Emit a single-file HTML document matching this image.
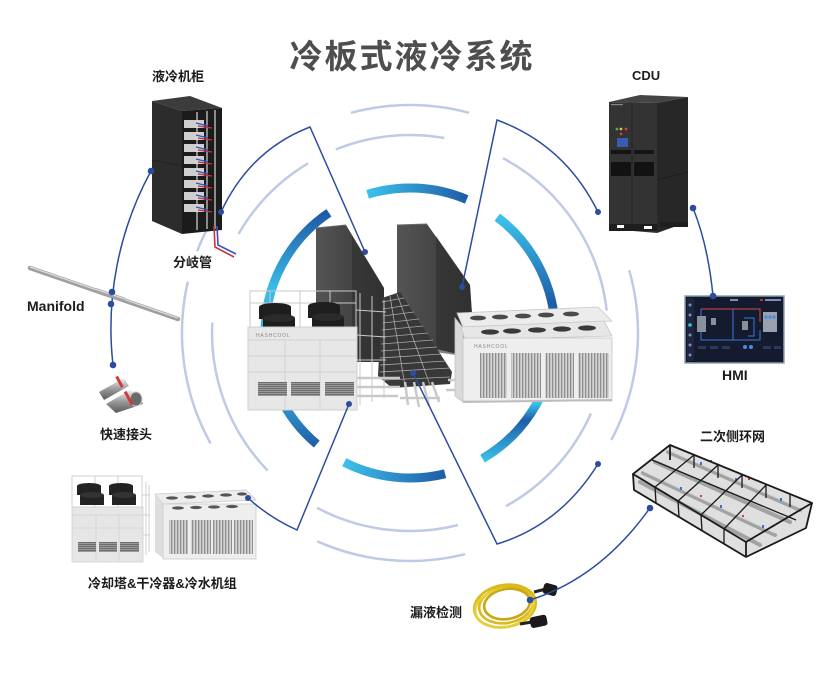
<!DOCTYPE html>
<html><head><meta charset="utf-8"><style>
html,body{margin:0;padding:0;background:#fff;}
svg{display:block}
.lb{font-family:"Liberation Sans","Noto Sans CJK SC",sans-serif;font-weight:bold;fill:#1c1c1c;}
</style></head><body>
<svg width="829" height="679" viewBox="0 0 829 679" xmlns="http://www.w3.org/2000/svg">
<defs>
<linearGradient id="gTop" gradientUnits="userSpaceOnUse" x1="367" y1="194" x2="467" y2="199"><stop offset="0" stop-color="#3cc2ea"/><stop offset="1" stop-color="#1e5ca8"/></linearGradient>
<linearGradient id="gLeft" gradientUnits="userSpaceOnUse" x1="0" y1="213" x2="0" y2="445"><stop offset="0" stop-color="#1e5aa6"/><stop offset="0.33" stop-color="#3bbde8"/><stop offset="0.85" stop-color="#2e8fca"/><stop offset="1" stop-color="#2160a8"/></linearGradient>
<linearGradient id="gRight" gradientUnits="userSpaceOnUse" x1="0" y1="217" x2="0" y2="459"><stop offset="0" stop-color="#3cc2ea"/><stop offset="0.36" stop-color="#1e5ca8"/><stop offset="0.77" stop-color="#3cc2ea"/><stop offset="0.84" stop-color="#1e5ca8"/><stop offset="1" stop-color="#39bde6"/></linearGradient>
<linearGradient id="gBot" gradientUnits="userSpaceOnUse" x1="344" y1="462" x2="445" y2="474"><stop offset="0" stop-color="#3cc2ea"/><stop offset="1" stop-color="#1e5ca8"/></linearGradient>
<linearGradient id="boxL" x1="0" y1="0" x2="1" y2="0"><stop offset="0" stop-color="#555"/><stop offset="1" stop-color="#333"/></linearGradient>
<linearGradient id="boxR" x1="0" y1="0" x2="1" y2="0"><stop offset="0" stop-color="#555"/><stop offset="1" stop-color="#333"/></linearGradient>
<pattern id="coil" width="3" height="10" patternUnits="userSpaceOnUse"><rect width="3" height="10" fill="#d4d4d4"/><rect width="1.3" height="10" fill="#8e8e8e"/></pattern>
<pattern id="louv" width="10" height="2" patternUnits="userSpaceOnUse"><rect width="10" height="2" fill="#9a9a9a"/><rect width="10" height="1" fill="#6e6e6e"/></pattern>
<linearGradient id="metal" x1="0" y1="0" x2="0" y2="1"><stop offset="0" stop-color="#f2f2f2"/><stop offset="0.5" stop-color="#9a9a9a"/><stop offset="1" stop-color="#5a5a5a"/></linearGradient>
</defs>
<rect width="829" height="679" fill="#fff"/>

<text x="412" y="68" text-anchor="middle" font-family="'Liberation Sans','Noto Sans CJK SC',sans-serif" font-weight="bold" font-size="33" letter-spacing="2" fill="#4e4e4e">冷板式液冷系统</text>

<g fill="none" stroke="#bfcae6" stroke-width="2.5">
<path d="M351,112.8 A228,228 0 0,1 469,112.8"/>
<path d="M208.7,226 A228,228 0 0,0 197.1,251.3"/>
<path d="M187.8,281.7 A228,228 0 0,0 210.6,443.5"/>
<path d="M317.3,541.3 A228,228 0 0,0 465.2,554.2"/>
<path d="M629.2,270.2 A228,228 0 0,1 611.3,440"/>
<path d="M335.8,149.4 A198,198 0 0,1 444.4,138"/>
<path d="M238.5,234 A198,198 0 0,1 308,163.3"/>
<path d="M503,158.2 A198,198 0 0,1 606.7,310.6"/>
<path d="M590.9,413.5 A198,198 0 0,1 506,506.2"/>
<path d="M317,507.8 A198,198 0 0,0 457.9,525.1"/>
<path d="M212.3,322.6 A198,198 0 0,0 267.6,470.5"/>
</g>

<g fill="none" stroke-width="9">
<path d="M367.6,194.3 A145,145 0 0,1 466.7,199.5" stroke="url(#gTop)"/>
<path d="M328.9,212.8 A145,145 0 0,0 316.8,444.1" stroke="url(#gLeft)"/>
<path d="M497.3,217.2 A145,145 0 0,1 482.5,458.6" stroke="url(#gRight)"/>
<path d="M344.2,462.2 A145,145 0 0,0 445.1,473.7" stroke="url(#gBot)"/>
</g>

<polygon points="316,228 346,225 384,288 384,362 316,362" fill="url(#boxL)"/>
<polygon points="352,236 384,288 384,362 352,362" fill="#303030" opacity="0.6"/>
<line x1="316" y1="228" x2="346" y2="225" stroke="#6a6a6a" stroke-width="1"/>
<polygon points="397,225 427,224 470,285 475,358 397,340" fill="url(#boxR)"/>
<polygon points="436,236 470,285 475,358 436,352" fill="#2e2e2e" opacity="0.6"/>
<line x1="397" y1="225" x2="427" y2="224" stroke="#6a6a6a" stroke-width="1"/>
<polygon points="382,298 400,292 452,372 450,384 392,388 378,376" fill="#383838"/>
<g stroke="#a8a8a8" stroke-width="0.8">
<line x1="382" y1="302" x2="404" y2="298"/><line x1="383" y1="309" x2="409" y2="305"/>
<line x1="383" y1="316" x2="414" y2="312"/><line x1="383" y1="323" x2="419" y2="319"/>
<line x1="382" y1="330" x2="423" y2="326"/><line x1="382" y1="337" x2="428" y2="333"/>
<line x1="381" y1="344" x2="433" y2="340"/><line x1="381" y1="351" x2="437" y2="347"/>
<line x1="380" y1="358" x2="442" y2="354"/><line x1="380" y1="365" x2="446" y2="361"/>
<line x1="380" y1="372" x2="450" y2="368"/><line x1="384" y1="380" x2="450" y2="377"/>
<line x1="390" y1="296" x2="405" y2="386"/><line x1="397" y1="294" x2="430" y2="385"/>
</g>
<g stroke="#c9c9c9" stroke-width="2.5" fill="none">
<line x1="356" y1="378" x2="400" y2="378"/><line x1="356" y1="387" x2="400" y2="387"/><line x1="356" y1="396" x2="398" y2="396"/>
<path d="M405,382 L408,405"/><path d="M414,382 L419,407"/><path d="M423,382 L429,406"/><path d="M432,382 L439,402"/>
<line x1="448" y1="380" x2="470" y2="380"/><line x1="446" y1="390" x2="470" y2="390"/>
<path d="M400,398 L440,398"/>
</g>

<g stroke="#c9c9c9" stroke-width="1" fill="none">
<rect x="250" y="291" width="106" height="36"/>
<line x1="270" y1="291" x2="270" y2="327"/><line x1="300" y1="291" x2="300" y2="327"/><line x1="330" y1="291" x2="330" y2="327"/>
<line x1="250" y1="303" x2="356" y2="303"/>
<line x1="360" y1="293" x2="360" y2="405"/><line x1="372" y1="296" x2="372" y2="402"/><line x1="384" y1="300" x2="384" y2="398"/>
<line x1="356" y1="310" x2="386" y2="312"/><line x1="356" y1="335" x2="386" y2="337"/><line x1="356" y1="360" x2="386" y2="360"/>
</g>
<g fill="#1e1e1e">
<rect x="259" y="307" width="32" height="12"/><ellipse cx="275" cy="307" rx="16" ry="4"/>
<rect x="263" y="318" width="32" height="10"/><ellipse cx="279" cy="318" rx="16" ry="4" fill="#2a2a2a"/>
<rect x="308" y="306" width="32" height="12"/><ellipse cx="324" cy="306" rx="16" ry="4"/>
<rect x="312" y="317" width="32" height="11"/><ellipse cx="328" cy="317" rx="16" ry="4" fill="#2a2a2a"/>
</g>
<rect x="248" y="327" width="109" height="83" fill="#e7e7e7" stroke="#cfcfcf"/>
<g stroke="#d2d2d2" stroke-width="1">
<line x1="285" y1="340" x2="285" y2="410"/><line x1="320" y1="340" x2="320" y2="410"/>
<line x1="248" y1="340" x2="357" y2="340"/><line x1="248" y1="356" x2="357" y2="356"/><line x1="248" y1="372" x2="357" y2="372"/>
</g>
<text x="256" y="337" font-family="'Liberation Sans',sans-serif" font-size="5" fill="#888" letter-spacing="0.8">HASHCOOL</text>
<rect x="258" y="382" width="29" height="14" fill="url(#louv)"/>
<rect x="291" y="382" width="29" height="14" fill="url(#louv)"/>
<rect x="325" y="382" width="29" height="14" fill="url(#louv)"/>

<polygon points="455,318 463,328 463,402 455,396" fill="#d9d9d9" stroke="#c4c4c4" stroke-width="0.8"/>
<polygon points="457,313 598,307 612,321 463,327" fill="#ececec" stroke="#c8c8c8" stroke-width="0.8"/>
<g fill="#4a4a4a"><ellipse cx="478" cy="318" rx="8" ry="2.4"/><ellipse cx="500" cy="317" rx="8" ry="2.4"/><ellipse cx="523" cy="316" rx="8" ry="2.4"/><ellipse cx="546" cy="315" rx="8" ry="2.4"/><ellipse cx="571" cy="314" rx="8" ry="2.4"/></g>
<polygon points="461,327 604,321 612,336 465,340" fill="#e6e6e6" stroke="#c8c8c8" stroke-width="0.8"/>
<g fill="#3a3a3a"><ellipse cx="490" cy="332" rx="9" ry="2.6"/><ellipse cx="512" cy="331" rx="9" ry="2.6"/><ellipse cx="537" cy="330" rx="9" ry="2.6"/><ellipse cx="562" cy="329" rx="9" ry="2.6"/><ellipse cx="587" cy="328" rx="9" ry="2.6"/></g>
<rect x="463" y="338" width="149" height="63" fill="#eeeeee" stroke="#c6c6c6" stroke-width="0.8"/>
<text x="474" y="348" font-family="'Liberation Sans',sans-serif" font-size="5" fill="#888" letter-spacing="0.8">HASHCOOL</text>
<rect x="480" y="353" width="27" height="45" fill="url(#coil)"/>
<rect x="511" y="353" width="30" height="45" fill="url(#coil)"/>
<rect x="545" y="353" width="29" height="45" fill="url(#coil)"/>
<rect x="578" y="353" width="31" height="45" fill="url(#coil)"/>
<line x1="463" y1="402" x2="612" y2="400" stroke="#bdbdbd" stroke-width="2"/>

<polygon points="152,101 190,96 222,108 182,111" fill="#3c3c3c"/>
<polygon points="152,101 182,111 182,234 152,221" fill="#2c2c2c"/>
<line x1="152" y1="160" x2="182" y2="166" stroke="#222" stroke-width="1"/>
<polygon points="182,111 222,108 222,230 182,234" fill="#1b1b1b"/>
<g fill="#cfcfcf">
<rect x="184" y="120" width="20" height="8"/><rect x="184" y="132" width="20" height="8"/><rect x="184" y="144" width="20" height="8"/><rect x="184" y="156" width="20" height="8"/>
<rect x="184" y="168" width="20" height="8"/><rect x="184" y="180" width="20" height="8"/><rect x="184" y="192" width="20" height="8"/><rect x="184" y="204" width="20" height="8"/>
</g>
<g stroke="#d8d8d8" stroke-width="1.2"><line x1="197" y1="112" x2="197" y2="230"/><line x1="207" y1="111" x2="207" y2="229"/><line x1="215" y1="110" x2="215" y2="229"/></g>
<g stroke-width="1.2" fill="none">
<g stroke="#3552c4"><path d="M196,123 L208,126"/><path d="M196,135 L208,138"/><path d="M196,147 L208,150"/><path d="M196,159 L208,162"/><path d="M196,171 L208,174"/><path d="M196,183 L208,186"/><path d="M196,195 L208,198"/><path d="M196,207 L208,210"/></g>
<g stroke="#c83434"><path d="M198,126 L212,128"/><path d="M198,138 L212,140"/><path d="M198,150 L212,152"/><path d="M198,162 L212,164"/><path d="M198,174 L212,176"/><path d="M198,186 L212,188"/><path d="M198,198 L212,200"/><path d="M198,210 L212,212"/></g>
</g>
<g stroke-width="1.6" fill="none">
<path d="M214,226 L215,247 L234,257" stroke="#c83434"/>
<path d="M217,226 L218,245 L236,254" stroke="#3552c4"/>
</g>

<line x1="30" y1="268" x2="178" y2="319" stroke="#9f9f9f" stroke-width="4.5" stroke-linecap="round"/>
<line x1="30" y1="267" x2="178" y2="318" stroke="#dcdcdc" stroke-width="1.2"/>

<g>
<polygon points="99,392 124,378 129,386 104,400" fill="url(#metal)"/>
<rect x="118" y="376" width="3" height="12" fill="#d23a3a" transform="rotate(-28 119 382)"/>
<polygon points="106,404 130,390 140,396 143,404 116,413" fill="url(#metal)"/>
<ellipse cx="136" cy="399" rx="6" ry="7" fill="#6a6a6a" stroke="#ccc"/>
<rect x="127" y="391" width="3" height="15" fill="#d23a3a" transform="rotate(-28 128 398)"/>
</g>

<g stroke="#cfcfcf" stroke-width="1" fill="none">
<rect x="72" y="476" width="70" height="31"/>
<line x1="95" y1="476" x2="95" y2="507"/><line x1="118" y1="476" x2="118" y2="507"/>
<line x1="146" y1="482" x2="146" y2="555"/><line x1="149" y1="485" x2="149" y2="552"/>
<line x1="142" y1="495" x2="150" y2="495"/><line x1="142" y1="515" x2="150" y2="515"/><line x1="142" y1="535" x2="150" y2="535"/>
</g>
<g fill="#222">
<rect x="77" y="486" width="24" height="9"/><ellipse cx="89" cy="486" rx="12" ry="3"/>
<rect x="80" y="495" width="24" height="10"/><ellipse cx="92" cy="495" rx="12" ry="3" fill="#333"/>
<rect x="109" y="486" width="24" height="9"/><ellipse cx="121" cy="486" rx="12" ry="3"/>
<rect x="112" y="495" width="24" height="10"/><ellipse cx="124" cy="495" rx="12" ry="3" fill="#333"/>
</g>
<rect x="72" y="507" width="71" height="55" fill="#e6e6e6" stroke="#d0d0d0" stroke-width="0.8"/>
<g stroke="#d6d6d6"><line x1="96" y1="515" x2="96" y2="562"/><line x1="119" y1="515" x2="119" y2="562"/><line x1="72" y1="515" x2="143" y2="515"/><line x1="72" y1="528" x2="143" y2="528"/></g>
<rect x="78" y="542" width="18" height="10" fill="url(#louv)"/>
<rect x="99" y="542" width="18" height="10" fill="url(#louv)"/>
<rect x="120" y="542" width="19" height="10" fill="url(#louv)"/>

<polygon points="155,494 246,490 256,500 163,504" fill="#ededed" stroke="#cccccc" stroke-width="0.8"/>
<g fill="#555"><ellipse cx="172" cy="498" rx="6" ry="1.6"/><ellipse cx="190" cy="497" rx="6" ry="1.6"/><ellipse cx="208" cy="496" rx="6" ry="1.6"/><ellipse cx="226" cy="495" rx="6" ry="1.6"/><ellipse cx="242" cy="494" rx="5" ry="1.6"/></g>
<polygon points="155,494 163,504 163,558 155,552" fill="#dedede"/>
<rect x="163" y="504" width="93" height="55" fill="#eeeeee" stroke="#cccccc" stroke-width="0.8"/>
<g fill="#555"><ellipse cx="178" cy="508" rx="6" ry="1.6"/><ellipse cx="196" cy="507.5" rx="6" ry="1.6"/><ellipse cx="214" cy="507" rx="6" ry="1.6"/><ellipse cx="232" cy="506.5" rx="6" ry="1.6"/></g>
<rect x="169" y="520" width="19" height="34" fill="url(#coil)"/>
<rect x="191" y="520" width="20" height="34" fill="url(#coil)"/>
<rect x="213" y="520" width="19" height="34" fill="url(#coil)"/>
<rect x="234" y="520" width="19" height="34" fill="url(#coil)"/>

<polygon points="609,102 640,95 688,97 657,103" fill="#454545"/>
<polygon points="609,102 657,103 657,233 609,229" fill="#333333"/>
<polygon points="657,103 688,97 688,222 657,233" fill="#272727"/>
<line x1="632" y1="104" x2="632" y2="228" stroke="#262626" stroke-width="1"/>
<line x1="657" y1="180" x2="688" y2="172" stroke="#1e1e1e" stroke-width="1"/>
<circle cx="617" cy="129" r="1.4" fill="#4caf50"/><circle cx="621" cy="129" r="1.4" fill="#e8c030"/><circle cx="626" cy="129" r="1.4" fill="#d84040"/>
<circle cx="621" cy="134" r="1.3" fill="#d84040"/>
<rect x="617" y="138" width="11" height="9" fill="#3a5cb0"/>
<rect x="611" y="150" width="20" height="4" fill="#151515"/><rect x="634" y="150" width="20" height="4" fill="#151515"/>
<rect x="611" y="162" width="20" height="14" rx="1.5" fill="#121212"/><rect x="634" y="162" width="20" height="14" rx="1.5" fill="#121212"/>
<rect x="609" y="224" width="48" height="7" fill="#1e1e1e"/>
<rect x="617" y="225" width="7" height="3" fill="#fff"/><rect x="644" y="226" width="8" height="3" fill="#fff"/>
<rect x="660" y="222" width="28" height="5" fill="#1e1e1e"/>
<rect x="611" y="104" width="12" height="1.2" fill="#888"/>

<rect x="685" y="296" width="99" height="67" fill="#151b2f" stroke="#8fa0b2" stroke-width="1.5"/>
<rect x="687" y="298" width="7" height="63" fill="#1d2540"/>
<g fill="#7f8fb0"><circle cx="690" cy="305" r="1.5"/><circle cx="690" cy="315" r="1.5"/><circle cx="690" cy="325" r="1.8" fill="#3ec0d8"/><circle cx="690" cy="335" r="1.5"/><circle cx="690" cy="345" r="1.5"/><circle cx="690" cy="355" r="1.5"/></g>
<g fill="none" stroke-width="1">
<path d="M701,309 L760,309 L760,322" stroke="#d94a4a"/>
<path d="M701,309 L701,340 L760,340 L760,330" stroke="#3a7ad8"/>
<path d="M733,309 L733,340" stroke="#3a7ad8"/>
<path d="M744,318 L754,318 L754,336 L748,336" stroke="#3a7ad8"/>
</g>
<rect x="697" y="316" width="9" height="16" fill="#8a8f9c"/>
<rect x="711" y="318" width="5" height="7" fill="#8a8f9c"/>
<rect x="742" y="321" width="6" height="9" fill="#8a8f9c"/>
<rect x="763" y="312" width="14" height="20" fill="#9aa0ac"/>
<g fill="#4b8de0"><circle cx="766" cy="317" r="1.8"/><circle cx="770" cy="317" r="1.8"/><circle cx="774" cy="317" r="1.8"/></g>
<g fill="#2c3a5a"><rect x="698" y="346" width="8" height="3"/><rect x="710" y="346" width="8" height="3"/><rect x="722" y="346" width="8" height="3"/><rect x="763" y="346" width="8" height="3"/><rect x="774" y="346" width="7" height="3"/></g>
<circle cx="745" cy="347" r="2" fill="#4b8de0"/><circle cx="751" cy="347" r="2" fill="#4b8de0"/>
<g fill="#c9302c"><rect x="760" y="299" width="3" height="2"/></g>
<g fill="#7f8fb0"><rect x="765" y="299" width="16" height="2"/><rect x="730" y="299" width="8" height="2"/></g>

<polygon points="670,445 812,503 806,528 746,557 634,490 633,474" fill="#c4c4c4" opacity="0.55"/>
<g stroke="#9c9c9c" stroke-width="4" stroke-linecap="round" opacity="0.9">
<line x1="668" y1="452" x2="800" y2="510"/>
<line x1="655" y1="462" x2="790" y2="522"/>
<line x1="643" y1="473" x2="775" y2="535"/>
<line x1="640" y1="482" x2="760" y2="545"/>
</g>
<g stroke="#d8d8d8" stroke-width="1.2"><line x1="668" y1="450" x2="800" y2="508"/><line x1="643" y1="471" x2="775" y2="533"/></g>
<g fill="#3e6fd0"><rect x="700" y="462" width="2" height="3"/><rect x="735" y="478" width="2" height="3"/><rect x="680" y="487" width="2" height="3"/><rect x="720" y="505" width="2" height="3"/><rect x="762" y="525" width="2" height="3"/><rect x="780" y="498" width="2" height="3"/></g>
<g fill="#d04040"><rect x="710" y="460" width="2" height="2"/><rect x="748" y="478" width="2" height="2"/><rect x="700" y="495" width="2" height="2"/><rect x="742" y="515" width="2" height="2"/></g>
<g fill="none" stroke="#1a1a1a" stroke-width="1.8" stroke-linejoin="round">
<polygon points="670,445 812,503 746,542 633,474"/>
<polyline points="633,474 634,490 746,557 806,528 812,503"/>
<line x1="746" y1="542" x2="746" y2="557"/>
<line x1="670" y1="445" x2="670" y2="460"/>
</g>
<g stroke="#1a1a1a" stroke-width="1.3">
<line x1="655" y1="487" x2="656" y2="503"/><line x1="678" y1="501" x2="679" y2="517"/><line x1="701" y1="515" x2="702" y2="531"/><line x1="724" y1="529" x2="724" y2="544"/>
<line x1="694" y1="455" x2="694" y2="468"/><line x1="718" y1="465" x2="718" y2="478"/><line x1="742" y1="475" x2="742" y2="488"/><line x1="766" y1="485" x2="766" y2="498"/><line x1="790" y1="494" x2="790" y2="507"/>
<line x1="652" y1="460" x2="796" y2="520"/>
<line x1="694" y1="455" x2="655" y2="487"/><line x1="718" y1="465" x2="678" y2="501"/><line x1="742" y1="475" x2="701" y2="515"/><line x1="766" y1="485" x2="724" y2="529"/>
</g>

<g fill="none" stroke="#d9bb1c" stroke-width="2.6">
<ellipse cx="505" cy="606" rx="31" ry="21" transform="rotate(-10 505 606)"/>
<ellipse cx="506" cy="605" rx="27" ry="18" transform="rotate(-10 506 605)"/>
<ellipse cx="504" cy="608" rx="29" ry="19" transform="rotate(-10 504 608)" stroke="#e8cf3a"/>
<ellipse cx="507" cy="604" rx="23" ry="15" transform="rotate(-10 507 604)" stroke="#c9a818"/>
</g>
<path d="M534,592 L546,589" stroke="#222" stroke-width="3"/>
<rect x="543" y="584" width="14" height="11" rx="3" fill="#1a1a1a" transform="rotate(15 550 590)"/>
<path d="M520,624 L532,622" stroke="#222" stroke-width="3"/>
<rect x="530" y="616" width="17" height="11" rx="3" fill="#1a1a1a" transform="rotate(-12 538 621)"/>

<g fill="none" stroke="#2c4ca0" stroke-width="1.5">
<path d="M151,171 A329,329 0 0,0 113,365"/>
<path d="M221,212 Q250,150 310,127 L365,252"/>
<path d="M598,212 Q565,145 497,120 L462,287"/>
<path d="M693,208 Q708,245 713,296"/>
<path d="M349,404 L297,530 Q270,518 248,498"/>
<path d="M413,373 L497,544 Q560,525 598,464"/>
<path d="M650,508 Q600,578 530,600"/>
</g>
<line x1="95" y1="290" x2="125" y2="300" stroke="#a2a2a2" stroke-width="4.5"/>
<line x1="95" y1="289" x2="125" y2="299" stroke="#dcdcdc" stroke-width="1.2"/>
<g fill="#2c4ca0">
<circle cx="151" cy="171" r="3.3"/><circle cx="112" cy="292" r="3.3"/><circle cx="111" cy="304" r="3.3"/><circle cx="113" cy="365" r="3.3"/>
<circle cx="221" cy="212" r="3"/><circle cx="365" cy="252" r="3"/>
<circle cx="598" cy="212" r="3"/><circle cx="462" cy="287" r="3"/>
<circle cx="693" cy="208" r="3.3"/><circle cx="713" cy="296" r="3.3"/>
<circle cx="349" cy="404" r="3"/><circle cx="248" cy="498" r="3"/>
<circle cx="413" cy="373" r="3"/><circle cx="598" cy="464" r="3"/>
<circle cx="650" cy="508" r="3.3"/><circle cx="530" cy="600" r="3.3"/>
</g>

<text class="lb" x="152" y="81" font-size="13">液冷机柜</text>
<text class="lb" x="173" y="267" font-size="13">分岐管</text>
<text class="lb" x="27" y="311" font-size="14">Manifold</text>
<text class="lb" x="100" y="439" font-size="13">快速接头</text>
<text class="lb" x="88" y="588" font-size="13">冷却塔&amp;干冷器&amp;冷水机组</text>
<text class="lb" x="410" y="617" font-size="13">漏液检测</text>
<text class="lb" x="700" y="441" font-size="13">二次侧环网</text>
<text class="lb" x="722" y="380" font-size="14">HMI</text>
<text class="lb" x="632" y="80" font-size="13">CDU</text>
</svg>
</body></html>
